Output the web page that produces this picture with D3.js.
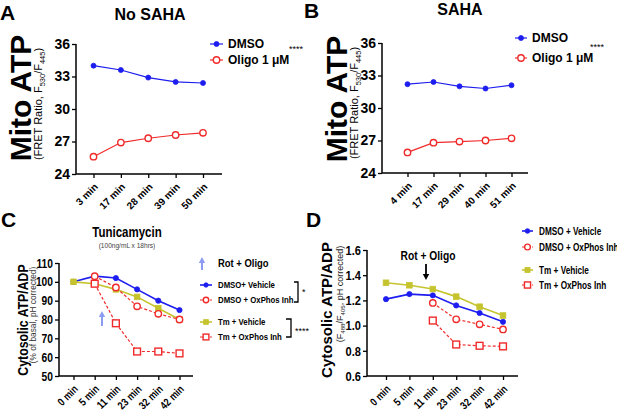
<!DOCTYPE html>
<html><head><meta charset="utf-8">
<script src="https://cdn.jsdelivr.net/npm/d3@7"></script>
<style>body{margin:0;background:#fff}svg{display:block}</style>
</head><body>
<svg id="c" width="617" height="414"></svg>
<script>
// ---------- data ----------
const timesA = ["3 min","17 min","28 min","39 min","50 min"];
const dmsoA  = [34.0, 33.6, 32.9, 32.5, 32.4];
const oligoA = [25.6, 26.9, 27.3, 27.6, 27.8];
const timesB = ["4 min","17 min","29 min","40 min","51 min"];
const dmsoB  = [32.2, 32.4, 32.0, 31.8, 32.1];
const oligoB = [25.9, 26.8, 26.9, 27.0, 27.2];
const yTicksAB = [24, 27, 30, 33, 36];

const timesCD = ["0 min","5 min","11 min","23 min","32 min","42 min"];
const dmsoVehC = [100, 103, 102, 96, 90, 85];
const dmsoOxC  = [null, 103, 97, 87, 83, 80];
const tmVehC   = [100, 99, 96, 92, 86, 80];
const tmOxC    = [null, 99, 78, 63, 63, 62];
const yTicksC  = [50, 60, 70, 80, 90, 100, 110];

const dmsoVehD = [1.21, 1.25, 1.24, 1.16, 1.10, 1.03];
const dmsoOxD  = [null, null, 1.18, 1.05, 1.01, 0.97];
const tmVehD   = [1.34, 1.32, 1.29, 1.23, 1.15, 1.08];
const tmOxD    = [null, null, 1.04, 0.85, 0.84, 0.835];
const yTicksD  = [0.6, 0.8, 1.0, 1.2, 1.4, 1.6];

const legendAB = ["DMSO", "Oligo 1 \u03bcM"];
const legendC  = ["DMSO+ Vehicle", "DMSO + OxPhos Inh", "Tm + Vehicle", "Tm + OxPhos Inh"];
const legendD  = ["DMSO + Vehicle", "DMSO + OxPhos Inh", "Tm + Vehicle", "Tm + OxPhos Inh"];

// ---------- style ----------
const ARIAL = "'Liberation Sans', Arial, sans-serif";
const NARROW = "narrow";
const BLUE = "#1d1df0", RED = "#f02a2a", YEL = "#c6c42e", ARROWBLUE = "#8d9cf3";

const svg = d3.select("#c");
svg.append("rect").attr("width", 617).attr("height", 414).attr("fill", "#fff");

function fam(sel, f) {
  sel.attr("font-family", ARIAL);
  if (f === NARROW) sel.classed("narrow", true);
  return sel;
}
function txt(s, x, y, size, opt = {}) {
  const t = svg.append("text").attr("x", x).attr("y", y)
    .attr("font-size", size)
    .attr("font-weight", opt.weight || "bold")
    .attr("fill", opt.fill || "#000")
    .attr("text-anchor", opt.anchor || "start")
    .text(s);
  fam(t, opt.family);
  return t;
}
function vtxt(s, x, cy, size, opt = {}) {
  const t = svg.append("text")
    .attr("transform", `translate(${x},${cy}) rotate(-90)`)
    .attr("font-size", size)
    .attr("font-weight", opt.weight || "bold")
    .attr("fill", opt.fill || "#000")
    .attr("text-anchor", "middle").text(s);
  fam(t, opt.family);
  return t;
}
function subLabel(x, cy, size, pre, a, mid, b, post, fill) {
  const s = svg.append("text").attr("transform", `translate(${x},${cy}) rotate(-90)`)
    .attr("font-family", ARIAL).attr("font-size", size).attr("text-anchor", "middle").attr("fill", fill);
  const ss = size * 0.68, dy = size * 0.25;
  s.append("tspan").text(pre);
  s.append("tspan").attr("font-size", ss).attr("dy", dy).text(a);
  s.append("tspan").attr("dy", -dy).text(mid);
  s.append("tspan").attr("font-size", ss).attr("dy", dy).text(b);
  s.append("tspan").attr("dy", -dy).text(post);
}

function axes(x, y, o) {
  const [yb, yt] = y.range();
  const g = svg.append("g");
  const gy = g.append("g").attr("transform", `translate(${o.x0},0)`)
    .call(d3.axisLeft(y).tickValues(o.yTicks).tickFormat(o.yFmt).tickSize(4).tickPadding(2));
  gy.select(".domain").remove();
  gy.selectAll("line").attr("stroke", "#000").attr("stroke-width", 1.3);
  fam(gy.selectAll("text"), o.yFamily).attr("font-size", o.yFs)
    .attr("font-weight", "bold").attr("fill", "#000");
  const gx = g.append("g").attr("transform", `translate(0,${yb})`)
    .call(d3.axisBottom(x).tickSize(4));
  gx.select(".domain").remove();
  gx.selectAll("line").attr("stroke", "#000").attr("stroke-width", 1.3);
  fam(gx.selectAll("text"), o.xFamily).attr("x", 0).attr("y", 0).attr("dy", "0.35em")
    .attr("transform", "translate(2,11) rotate(-45)").attr("text-anchor", "end")
    .attr("font-size", o.xFs).attr("font-weight", "bold").attr("fill", "#000");
  g.append("path").attr("d", `M${o.x0},${yt}V${yb}H${o.x1}`)
    .attr("fill", "none").attr("stroke", "#000").attr("stroke-width", 1.5);
}

function marker(sel, st) {
  if (st.shape === "circle") {
    sel.append("circle").attr("r", st.r)
      .attr("fill", st.open ? "#fff" : st.color)
      .attr("stroke", st.color).attr("stroke-width", st.open ? 1.4 : 0.8);
  } else {
    sel.append("rect").attr("x", -st.r).attr("y", -st.r).attr("width", 2 * st.r).attr("height", 2 * st.r)
      .attr("fill", st.open ? "#fff" : st.color)
      .attr("stroke", st.color).attr("stroke-width", st.open ? 1.4 : 0.8);
  }
}
function series(x, y, cats, vals, st) {
  const line = d3.line().defined(d => d != null)
    .x((d, i) => x(cats[i])).y(d => y(d));
  svg.append("path").datum(vals).attr("d", line)
    .attr("fill", "none").attr("stroke", st.color).attr("stroke-width", st.lw)
    .attr("stroke-dasharray", st.dash || null);
  const pts = vals.map((v, i) => ({ c: cats[i], v })).filter(d => d.v != null);
  marker(svg.append("g").selectAll("g").data(pts).join("g")
    .attr("transform", d => `translate(${x(d.c)},${y(d.v)})`), st);
}
function legendItem(x1, x2, y, label, st, fs, family, ms) {
  svg.append("line").attr("x1", x1).attr("x2", x2).attr("y1", y).attr("y2", y)
    .attr("stroke", st.color).attr("stroke-width", st.lw).attr("stroke-dasharray", st.dash || null);
  marker(svg.append("g").attr("transform", `translate(${(x1 + x2) / 2},${y})`), Object.assign({}, st, { r: st.r * (ms || 1) }));
  txt(label, x2 + st.gap, y + fs * 0.36, fs, { family });
}
function arrow(x, yTail, yHead, color, w) {
  const dir = yHead < yTail ? 1 : -1;
  svg.append("line").attr("x1", x).attr("x2", x).attr("y1", yTail).attr("y2", yHead + dir * 5)
    .attr("stroke", color).attr("stroke-width", w);
  svg.append("path").attr("d", `M${x},${yHead}L${x - 3.2},${yHead + dir * 6}L${x + 3.2},${yHead + dir * 6}Z`)
    .attr("fill", color);
}

// ---------- styles per series ----------
const stBlueAB = { color: BLUE, lw: 1.2, shape: "circle", r: 2.5, open: false, gap: 5 };
const stRedAB  = { color: RED, lw: 1.2, shape: "circle", r: 3.2, open: true, gap: 5 };
const stDV = { color: BLUE, lw: 1.6, shape: "circle", r: 2.6, open: false, gap: 6 };
const stDO = { color: RED, lw: 1.2, dash: "3,2", shape: "circle", r: 3.2, open: true, gap: 6 };
const stTV = { color: YEL, lw: 1.6, shape: "rect", r: 2.8, open: false, gap: 6 };
const stTO = { color: RED, lw: 1.2, dash: "3,2", shape: "rect", r: 3.4, open: true, gap: 6 };

// ================= Panel A =================
{
  const x = d3.scalePoint().domain(timesA).range([93.5, 203]);
  const y = d3.scaleLinear().domain([24, 36]).range([174, 44]);
  axes(x, y, { x0: 76, x1: 222, yTicks: yTicksAB, yFmt: d => d, yFamily: ARIAL, yFs: 14, xFamily: ARIAL, xFs: 10 });
  series(x, y, timesA, dmsoA, stBlueAB);
  series(x, y, timesA, oligoA, stRedAB);
  txt("A", 0, 20, 21);
  txt("No SAHA", 150, 20, 16, { anchor: "middle" });
  vtxt("Mito ATP", 31, 98, 30);
  subLabel(42, 104, 11, "(FRET Ratio, F", "530", "/F", "445", ")", "#000");
  legendItem(210, 223, 44, legendAB[0], stBlueAB, 12, ARIAL);
  legendItem(210, 223, 60, legendAB[1], stRedAB, 12, ARIAL);
  txt("****", 289, 52, 9, { weight: "normal" });
}

// ================= Panel B =================
{
  const x = d3.scalePoint().domain(timesB).range([407.5, 511.5]);
  const y = d3.scaleLinear().domain([24, 36]).range([173, 43]);
  axes(x, y, { x0: 382, x1: 528, yTicks: yTicksAB, yFmt: d => d, yFamily: ARIAL, yFs: 14, xFamily: ARIAL, xFs: 10 });
  series(x, y, timesB, dmsoB, stBlueAB);
  series(x, y, timesB, oligoB, stRedAB);
  txt("B", 304, 18, 21);
  txt("SAHA", 460, 15, 16, { anchor: "middle" });
  vtxt("Mito ATP", 347, 99, 30);
  subLabel(358, 103, 11, "(FRET Ratio, F", "530", "/F", "445", ")", "#000");
  legendItem(515, 527, 38, legendAB[0], stBlueAB, 12, ARIAL);
  legendItem(515, 527, 58, legendAB[1], stRedAB, 12, ARIAL);
  txt("****", 590, 50, 9, { weight: "normal" });
}

// ================= Panel C =================
{
  const x = d3.scalePoint().domain(timesCD).range([73.5, 179.5]);
  const y = d3.scaleLinear().domain([50, 110]).range([376, 263]);
  axes(x, y, { x0: 59, x1: 193, yTicks: yTicksC, yFmt: d => d, yFamily: NARROW, yFs: 12.5, xFamily: NARROW, xFs: 11 });
  series(x, y, timesCD, dmsoVehC, stDV);
  series(x, y, timesCD, tmVehC, stTV);
  series(x, y, timesCD, dmsoOxC, stDO);
  series(x, y, timesCD, tmOxC, stTO);
  arrow(102, 326, 311, ARROWBLUE, 2);
  txt("C", 1, 227, 21);
  txt("Tunicamycin", 127, 237, 14, { anchor: "middle", family: NARROW });
  txt("(100ng/mL x 18hrs)", 127, 248, 8, { anchor: "middle", family: NARROW, weight: "normal", fill: "#444" });
  vtxt("Cytosolic ATP/ADP", 28, 320, 15, { family: NARROW });
  vtxt("(% of basal, pH corrected)", 36, 315, 8.3, { weight: "normal", fill: "#333" });
  arrow(202, 270, 257, ARROWBLUE, 2);
  txt("Rot + Oligo", 218, 267, 11.5, { family: NARROW });
  legendItem(200, 212, 285, legendC[0], stDV, 9.5, NARROW, 0.85);
  legendItem(200, 212, 300, legendC[1], stDO, 9.5, NARROW, 0.85);
  legendItem(200, 212, 322, legendC[2], stTV, 9.5, NARROW, 0.85);
  legendItem(200, 212, 337, legendC[3], stTO, 9.5, NARROW, 0.85);
  svg.append("path").attr("d", "M294,282H298V302H294").attr("fill", "none").attr("stroke", "#000").attr("stroke-width", 1.3);
  txt("*", 302, 295, 9, { weight: "normal" });
  svg.append("path").attr("d", "M286,319H291V337H286").attr("fill", "none").attr("stroke", "#000").attr("stroke-width", 1.3);
  txt("****", 295, 334, 9, { weight: "normal" });
}

// ================= Panel D =================
{
  const x = d3.scalePoint().domain(timesCD).range([386, 503]);
  const y = d3.scaleLinear().domain([0.6, 1.6]).range([376, 250]);
  axes(x, y, { x0: 367, x1: 518, yTicks: yTicksD, yFmt: d => d.toFixed(1), yFamily: NARROW, yFs: 13.5, xFamily: NARROW, xFs: 11 });
  series(x, y, timesCD, dmsoVehD, stDV);
  series(x, y, timesCD, tmVehD, stTV);
  series(x, y, timesCD, dmsoOxD, stDO);
  series(x, y, timesCD, tmOxD, stTO);
  txt("D", 306, 227, 21);
  txt("Rot + Oligo", 428, 260, 12.5, { anchor: "middle", family: NARROW });
  arrow(426, 264, 280, "#000", 1.8);
  vtxt("Cytosolic ATP/ADP", 332, 310, 15);
  subLabel(343, 294, 9, "(F", "488", "/F", "405", ", pH corrected)", "#222");
  legendItem(522, 533, 231, legendD[0], stDV, 10, NARROW, 0.9);
  legendItem(522, 533, 247, legendD[1], stDO, 10, NARROW, 0.9);
  legendItem(522, 533, 270, legendD[2], stTV, 10, NARROW, 0.9);
  legendItem(522, 533, 285, legendD[3], stTO, 10, NARROW, 0.9);
}

// condensed ("narrow") text: compress horizontally
svg.selectAll("text.narrow").each(function () {
  const L = this.getComputedTextLength();
  this.setAttribute("textLength", (L * 0.82).toFixed(2));
  this.setAttribute("lengthAdjust", "spacingAndGlyphs");
});
</script>
</body></html>
